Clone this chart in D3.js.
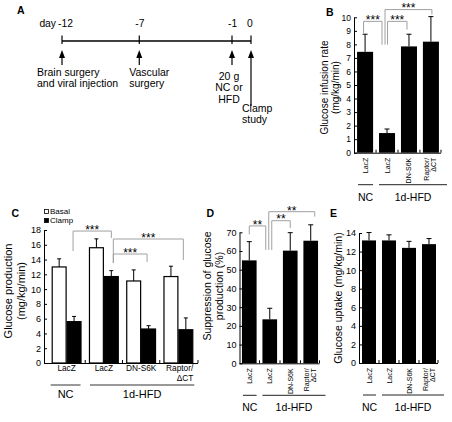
<!DOCTYPE html>
<html><head><meta charset="utf-8">
<script src="https://cdn.jsdelivr.net/npm/d3@7"></script>
<style>body{margin:0;background:#fff}svg{display:block}</style>
</head><body><svg id="chart" width="452" height="422"></svg>
<script>
// ---------- DATA ----------
// Panel A (timeline)
const timelineDays = [-12, -7, -1, 0];
const timelineTickLabels = ["-12", "-7", "-1", "0"];
const timelineEvents = [["Brain surgery", "and viral injection"], ["Vascular", "surgery"], ["20 g", "NC or", "HFD"], ["Clamp", "study"]];

// Shared categories
const barLabels = ["LacZ", "LacZ", "DN-S6K", "Raptor/\u0394CT"];
const groupLabels = ["NC", "1d-HFD"];

// Panel B: glucose infusion rate
const infusionRate = [7.45, 1.45, 7.85, 8.2];
const infusionRateErr = [1.3, 0.3, 0.9, 1.85];
const infusionTicks = [0, 1, 2, 3, 4, 5, 6, 7, 8, 9, 10];
const sigB = [[0, 1, "***"], [1, 3, "***"], [1, 2, "***"]];

// Panel C: glucose production
const seriesNames = ["Basal", "Clamp"];
const productionBasal = [13.0, 15.6, 11.1, 11.7];
const productionBasalErr = [1.1, 1.2, 1.5, 1.4];
const productionClamp = [5.6, 11.7, 4.6, 4.5];
const productionClampErr = [0.7, 0.8, 0.45, 1.6];
const productionTicks = [0, 2, 4, 6, 8, 10, 12, 14, 16, 18];
const sigC = [[0, 1, "***"], [1, 3, "***"], [1, 2, "***"]];

// Panel D: suppression of glucose production
const suppression = [55, 23.5, 60.2, 65.5];
const suppressionErr = [10, 5.9, 9.6, 8.5];
const suppressionTicks = [0, 10, 20, 30, 40, 50, 60, 70];
const sigD = [[0, 1, "**"], [1, 3, "**"], [1, 2, "**"]];

// Panel E: glucose uptake
const uptake = [13.2, 13.2, 12.4, 12.8];
const uptakeErr = [0.85, 0.6, 0.7, 0.6];
const uptakeTicks = [0, 2, 4, 6, 8, 10, 12, 14];

// ---------- DRAWING ----------
const F = '"Liberation Sans", Arial, Helvetica, sans-serif';
const svg = d3.select("#chart");
svg.attr("font-family", F);

function txt(g, x, y, s, o = {}) {
  return g.append("text").attr("x", x).attr("y", y).text(s)
    .attr("font-size", o.fs || 10).attr("text-anchor", o.anchor || "start")
    .attr("font-weight", o.fw || "normal").attr("fill", "#000");
}
function vtitle(g, lines, baselines, cy, fs) {
  lines.forEach((l, i) => {
    g.append("text").attr("transform", `translate(${baselines[i]},${cy}) rotate(-90)`)
      .attr("text-anchor", "middle").attr("font-size", fs).attr("fill", "#000").text(l);
  });
}
function splitLabel(s) {
  const k = s.indexOf("/");
  return k < 0 ? [s] : [s.slice(0, k + 1), s.slice(k + 1)];
}
function yAxis(g, y, x, ticks, fs) {
  const ga = g.append("g").attr("transform", `translate(${x},0)`)
    .call(d3.axisLeft(y).tickValues(ticks).tickSizeInner(-3).tickSizeOuter(0).tickPadding(3));
  ga.attr("font-family", F).attr("font-size", fs);
  ga.selectAll("text").attr("fill", "#000");
  ga.selectAll("line,path").attr("stroke", "#000");
  return ga;
}
function brackets(g, sig, geo, xc, y, fs) {
  sig.forEach((s, k) => {
    const gm = geo[k];
    const xl = xc(s[0]) + gm.dxL, xr = xc(s[1]) + gm.dxR;
    g.append("path").attr("d", `M${xl},${y(gm.left)}V${y(gm.level)}H${xr}V${y(gm.right)}`)
      .attr("fill", "none").attr("stroke", "#a0a0a0").attr("stroke-width", 1);
    txt(g, (xl + xr) / 2, y(gm.level) + 2.8, s[2], { fs: fs, anchor: "middle" });
  });
}

// ----- Panel A -----
(function () {
  const g = svg.append("g");
  const x = d3.scaleLinear().domain([-12, -1, 0]).range([62, 232, 251]);
  txt(g, 17, 14, "A", { fs: 10.5, fw: "bold" });
  g.append("line").attr("x1", x(-12)).attr("x2", x(0)).attr("y1", 41).attr("y2", 41)
    .attr("stroke", "#000").attr("stroke-width", 1.5);
  txt(g, x(-12) - 6, 27, "day", { fs: 10.3, anchor: "end" });
  const evX = [-25, -10, -3, -9];
  const evAnchor = ["start", "start", "middle", "start"];
  const evY = [76, 76, 80, 112];
  timelineDays.forEach((d, i) => {
    const xx = x(d);
    g.append("line").attr("x1", xx).attr("x2", xx).attr("y1", 35.5).attr("y2", 44).attr("stroke", "#000").attr("stroke-width", 1.2);
    txt(g, xx - 4, 27, timelineTickLabels[i], { fs: 10.3 });
    g.append("path").attr("d", `M${xx},50L${xx - 3},58L${xx + 3},58Z`).attr("fill", "#000");
    g.append("line").attr("x1", xx).attr("x2", xx).attr("y1", 56).attr("y2", i === 3 ? 106 : 65)
      .attr("stroke", "#000").attr("stroke-width", 1.2);
    timelineEvents[i].forEach((l, j) => txt(g, xx + evX[i], evY[i] + j * 11.3, l, { fs: 10.5, anchor: evAnchor[i] }));
  });
})();

// ----- Generic single-series panel (B, D, E) -----
function simplePanel(o) {
  const g = svg.append("g");
  const y = d3.scaleLinear().domain(o.domain).range(o.yRange);
  const x = d3.scaleBand().domain(d3.range(o.values.length)).range(o.xRange)
    .paddingInner(o.padIn).paddingOuter(o.padOut);
  const bw = x.bandwidth(), xc = i => x(i) + bw / 2;
  const ax = o.xRange[0], y0 = y(0), axEnd = o.xRange[1] - 1;
  g.selectAll("rect.bar").data(o.values).join("rect").attr("class", "bar")
    .attr("x", (d, i) => x(i)).attr("y", d => y(d)).attr("width", bw)
    .attr("height", d => y0 - y(d)).attr("fill", "#000");
  o.values.forEach((v, i) => {
    const t = y(v + o.errs[i]);
    g.append("path").attr("d", `M${xc(i)},${y(v)}V${t}M${xc(i) - 2.5},${t}H${xc(i) + 2.5}`)
      .attr("stroke", "#000").attr("fill", "none");
  });
  yAxis(g, y, ax, o.ticks, o.tickFs);
  g.append("line").attr("x1", ax).attr("x2", axEnd).attr("y1", y0 + 0.5).attr("y2", y0 + 0.5).attr("stroke", "#000");
  const bounds = d3.range(1, o.values.length).map(i => (x(i - 1) + bw + x(i)) / 2).concat([axEnd]);
  bounds.forEach(b => g.append("line").attr("x1", b).attr("x2", b).attr("y1", y0).attr("y2", y0 - 3).attr("stroke", "#000"));
  // rotated category labels
  barLabels.forEach((l, i) => {
    const parts = splitLabel(l);
    const offs = parts.length === 1 ? [2.5] : [-1.5, 5.5];
    parts.forEach((p, j) => {
      g.append("text").attr("transform", `translate(${xc(i) + offs[j]},${y0 + 5}) rotate(-90)`)
        .attr("text-anchor", "end").attr("font-size", 7).attr("fill", "#000").text(p);
    });
  });
  // group lines
  const gl = [[x(0) + 1, x(0) + bw], [x(1), axEnd + 6]];
  gl.forEach((seg, k) => {
    g.append("line").attr("x1", seg[0]).attr("x2", seg[1]).attr("y1", y0 + 32).attr("y2", y0 + 32).attr("stroke", "#222");
    txt(g, (seg[0] + seg[1]) / 2, y0 + 48, groupLabels[k], { fs: 10.5, anchor: "middle" });
  });
  vtitle(g, o.title, o.titleX, o.titleY, o.titleFs);
  txt(g, o.letter[1], o.letter[2], o.letter[0], { fs: 10.5, fw: "bold" });
  if (o.sig) brackets(g, o.sig, o.sigGeo, xc, y, 12);
}

simplePanel({
  values: infusionRate, errs: infusionRateErr, ticks: infusionTicks, domain: [0, 10],
  yRange: [152.7, 17.3], xRange: [354, 442], padIn: 0.27, padOut: 0.14, tickFs: 8.5,
  title: ["Glucose infusion rate", "(mg/kg/min)"], titleX: [328, 338.5], titleY: 87.5, titleFs: 10,
  letter: ["B", 326, 16],
  sig: sigB,
  sigGeo: [{ level: 9.7, left: 8.84, right: 7.98, dxL: -1.5, dxR: -5 },
           { level: 10.57, left: 7.98, right: 10.2, dxL: -2, dxR: 1 },
           { level: 9.7, left: 7.98, right: 9.09, dxL: 0.5, dxR: -2 }]
});

simplePanel({
  values: suppression, errs: suppressionErr, ticks: suppressionTicks, domain: [0, 70],
  yRange: [363.3, 232.3], xRange: [239.5, 320.5], padIn: 0.285, padOut: 0.12, tickFs: 9,
  title: ["Suppression of glucose", "production (%)"], titleX: [211, 223], titleY: 286, titleFs: 10.5,
  letter: ["D", 206.5, 216.5],
  sig: sigD,
  sigGeo: [{ level: 73.4, left: 68.9, right: 60.6, dxL: 0, dxR: -4 },
           { level: 81.0, left: 60.6, right: 78.4, dxL: -1, dxR: 4 },
           { level: 76.2, left: 60.6, right: 72.2, dxL: 2, dxR: 0 }]
});

simplePanel({
  values: uptake, errs: uptakeErr, ticks: uptakeTicks, domain: [0, 14],
  yRange: [363, 233], xRange: [359, 439], padIn: 0.3, padOut: 0.15, tickFs: 9,
  title: ["Glucose uptake  (mg/kg/min)"], titleX: [342], titleY: 298, titleFs: 10.5,
  letter: ["E", 330, 216.5]
});

// ----- Panel C (grouped) -----
(function () {
  const g = svg.append("g");
  const y = d3.scaleLinear().domain([0, 18]).range([363, 230]);
  const x = d3.scaleBand().domain(d3.range(4)).range([45, 200]).paddingInner(0.2).paddingOuter(0.18);
  const xs = d3.scaleBand().domain(seriesNames).range([0, x.bandwidth()]);
  const bw = x.bandwidth(), sbw = xs.bandwidth(), y0 = y(0);
  const series = [[productionBasal, productionBasalErr, "#fff"], [productionClamp, productionClampErr, "#000"]];
  series.forEach((s, k) => {
    const name = seriesNames[k];
    g.selectAll(null).data(s[0]).join("rect")
      .attr("x", (d, i) => x(i) + xs(name) + 0.5).attr("y", d => y(d)).attr("width", sbw - 1)
      .attr("height", d => y0 - y(d)).attr("fill", s[2]).attr("stroke", "#000").attr("stroke-width", 1.2);
    s[0].forEach((v, i) => {
      const cx = x(i) + xs(name) + sbw / 2, t = y(v + s[1][i]);
      g.append("path").attr("d", `M${cx},${y(v)}V${t}M${cx - 2},${t}H${cx + 2}`).attr("stroke", "#000").attr("fill", "none");
    });
  });
  yAxis(g, y, 44, productionTicks, 9);
  const axEnd = 198;
  g.append("line").attr("x1", 44).attr("x2", axEnd).attr("y1", y0 + 0.5).attr("y2", y0 + 0.5).attr("stroke", "#000");
  const bounds = d3.range(1, 4).map(i => (x(i - 1) + bw + x(i)) / 2).concat([axEnd]);
  bounds.forEach(b => g.append("line").attr("x1", b).attr("x2", b).attr("y1", y0).attr("y2", y0 - 3).attr("stroke", "#000"));
  barLabels.forEach((l, i) => {
    const parts = splitLabel(l);
    parts.forEach((p, j) => {
      if (parts.length === 1) txt(g, x(i) + bw / 2, 371, p, { fs: 8.3, anchor: "middle" });
      else txt(g, x(i) + bw, 371 + j * 10, p, { fs: 8.3, anchor: "end" });
    });
  });
  const gl = [[x(0) - 1, x(0) + bw - 1], [x(1) + 1, x(3) + bw + 1]];
  gl.forEach((seg, k) => {
    g.append("line").attr("x1", seg[0]).attr("x2", seg[1]).attr("y1", 385).attr("y2", 385).attr("stroke", "#999").attr("stroke-width", 2);
    txt(g, (seg[0] + seg[1]) / 2, 397.5, groupLabels[k], { fs: 11, anchor: "middle" });
  });
  // legend
  seriesNames.forEach((n, k) => {
    g.append("rect").attr("x", 44.5).attr("y", 209.5 + k * 9).attr("width", 4).attr("height", 4)
      .attr("fill", series[k][2]).attr("stroke", "#000").attr("stroke-width", 0.8);
    txt(g, 50, 213.8 + k * 9, n, { fs: 8 });
  });
  vtitle(g, ["Glucose production", "(mg/kg/min)"], [12, 24.5], 291, 11);
  txt(g, 11.5, 216.5, "C", { fs: 10.5, fw: "bold" });
  const xcC = i => x(i) + xs("Clamp") + sbw / 2;
  brackets(g, sigC, [
    { level: 17.86, left: 15.16, right: 16.92, dxL: -1, dxR: 0 },
    { level: 16.78, left: 13.53, right: 13.94, dxL: 2, dxR: -2.5 },
    { level: 14.75, left: 13.53, right: 13.67, dxL: 2, dxR: -1.5 }], xcC, y, 12);
})();
</script></body></html>
